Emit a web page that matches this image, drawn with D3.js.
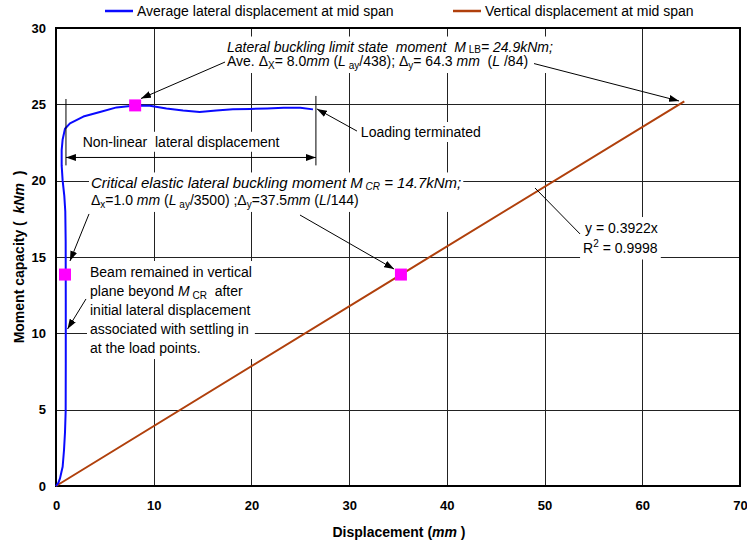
<!DOCTYPE html>
<html>
<head>
<meta charset="utf-8">
<script src="https://cdn.jsdelivr.net/npm/d3@7"></script>
<style>
  body { margin: 0; background: #fff; }
  svg { font-family: "Liberation Sans", Arial, sans-serif; }
  text { white-space: pre; }
</style>
</head>
<body>
<svg width="747" height="540"></svg>
<script>
var width = 747;
var height = 540;
var plotLeft = 56, plotRight = 740, plotTop = 28, plotBottom = 486;

// values
var xTicks = [0, 10, 20, 30, 40, 50, 60, 70];
var yTicks = [0, 5, 10, 15, 20, 25, 30];

var lateral = [
  [0, 0], [0.24, 0.2], [0.41, 0.5], [0.55, 0.9], [0.68, 1.26], [0.82, 2.36],
  [0.92, 3.5], [0.99, 4.9], [1.0, 8], [1.0, 12], [0.99, 16], [0.95, 18],
  [0.85, 19], [0.68, 20], [0.58, 21], [0.58, 22], [0.68, 22.7], [0.92, 23.4],
  [1.43, 23.75], [2.8, 24.2], [4.5, 24.5], [6.2, 24.8], [8.1, 24.93],
  [9.6, 24.9], [11.3, 24.73], [13.0, 24.6], [14.7, 24.5], [16.4, 24.6],
  [18.1, 24.67], [19.9, 24.7], [21.6, 24.73], [23.3, 24.77], [25.0, 24.77],
  [26.3, 24.67]
];
var vertical = [[0, 0], [35.3, 13.85], [64.3, 25.2]];
var keyPoints = [[8.1, 24.93], [0.92, 13.85], [35.3, 13.85]];

var seriesNames = ["Average lateral displacement at mid span", "Vertical displacement at mid span"];
var seriesColors = ["#0a0aff", "#b0400c"];

var xScale = d3.scaleLinear().domain([0, 70]).range([plotLeft, plotRight]);
var yScale = d3.scaleLinear().domain([0, 30]).range([plotBottom, plotTop]);

var svg = d3.select("svg");

var defs = svg.append("defs");
defs.append("marker")
  .attr("id", "arrow")
  .attr("viewBox", "0 0 10 7")
  .attr("refX", 10).attr("refY", 3.5)
  .attr("markerWidth", 10).attr("markerHeight", 7)
  .attr("markerUnits", "userSpaceOnUse")
  .attr("orient", "auto-start-reverse")
  .append("path").attr("d", "M0,0 L10,3.5 L0,7 z").attr("fill", "#000");

// grid + tick labels
var xAxis = svg.append("g")
  .attr("transform", `translate(0, ${plotBottom})`)
  .call(d3.axisBottom(xScale).tickValues(xTicks)
    .tickSize(-(plotBottom - plotTop)).tickSizeOuter(0));
var yAxis = svg.append("g")
  .attr("transform", `translate(${plotLeft}, 0)`)
  .call(d3.axisLeft(yScale).tickValues(yTicks)
    .tickSize(-(plotRight - plotLeft)).tickSizeOuter(0));

[xAxis, yAxis].forEach(function(a){
  a.select(".domain").remove();
  a.selectAll(".tick line").attr("stroke", "#222").attr("stroke-width", 1)
    .attr("shape-rendering", "crispEdges");
  a.selectAll(".tick text").attr("font-size", 13).attr("font-weight", "bold")
    .attr("fill", "#000").attr("font-family", "Liberation Sans, Arial, sans-serif");
});
xAxis.selectAll(".tick text").attr("y", 15);
yAxis.selectAll(".tick text").attr("x", -10);

// frame
svg.append("rect")
  .attr("x", plotLeft).attr("y", plotTop)
  .attr("width", plotRight - plotLeft).attr("height", plotBottom - plotTop)
  .attr("fill", "none").attr("stroke", "#000").attr("stroke-width", 1.2)
  .attr("shape-rendering", "crispEdges");
svg.append("path")
  .attr("d", `M${plotLeft},${plotTop} V${plotBottom} H${plotRight}`)
  .attr("fill", "none").attr("stroke", "#000").attr("stroke-width", 2);

var bgLayer = svg.append("g");
var dataLayer = svg.append("g");
var annLayer = svg.append("g").attr("font-size", 14).attr("fill", "#000");

var line = d3.line()
  .x(function(d){ return xScale(d[0]); })
  .y(function(d){ return yScale(d[1]); });

dataLayer.append("path").datum(vertical)
  .attr("fill", "none").attr("stroke", seriesColors[1]).attr("stroke-width", 2)
  .attr("d", line);
dataLayer.append("path").datum(lateral)
  .attr("fill", "none").attr("stroke", seriesColors[0]).attr("stroke-width", 2)
  .attr("stroke-linejoin", "round")
  .attr("d", line);
dataLayer.selectAll("rect.key").data(keyPoints).enter()
  .append("rect").attr("class", "key")
  .attr("x", d => xScale(d[0]) - 6).attr("y", d => yScale(d[1]) - 6)
  .attr("width", 12).attr("height", 12)
  .attr("fill", "#ff00ff");

// text with sub/superscripts: parts = [text, style]
function richText(g, xd, yd, parts, subShift){
  var t = g.append("text").attr("x", xScale(xd)).attr("y", yScale(yd));
  var shift = 0;
  var sub = subShift || 3;
  parts.forEach(function(p){
    var st = p[1] || "";
    var ts = t.append("tspan").text(p[0]);
    var target = st.indexOf("sub") >= 0 ? sub : (st.indexOf("sup") >= 0 ? -6 : 0);
    ts.attr("dy", target - shift);
    shift = target;
    if (st.indexOf("i") >= 0) ts.style("font-style", "italic");
    if (target !== 0) ts.attr("font-size", 10);
  });
  return t;
}

function whiteBox(g, pad){
  var b = g.node().getBBox();
  bgLayer.append("rect")
    .attr("x", b.x - pad).attr("y", b.y - pad)
    .attr("width", b.width + 2 * pad).attr("height", b.height + 2 * pad)
    .attr("fill", "#fff");
}

function arrow(x1, y1, x2, y2, head){
  annLayer.append("line")
    .attr("x1", xScale(x1)).attr("y1", yScale(y1))
    .attr("x2", xScale(x2)).attr("y2", yScale(y2))
    .attr("stroke", "#000").attr("stroke-width", 1)
    .attr("marker-end", head === false ? null : "url(#arrow)");
}

// Lateral buckling limit state
var g1 = annLayer.append("g");
richText(g1, 17.5, 28.46, [["Lateral buckling limit state  moment  M", "i"], [" LB", "sub"], ["= 24.9kNm;", "i"]], 1);
richText(g1, 17.5, 27.51, [["Ave. \u0394"], ["X", "sub"], ["= 8.0"], ["mm", "i"], [" ("], ["L", "i"], [" ay", "sub"],
  ["/438); \u0394"], ["y", "sub"], ["= 64.3 "], ["mm", "i"], ["  ("], ["L", "i"], [" /84)"]]);
whiteBox(g1, 2);
arrow(17.3, 27.77, 8.7, 25.38);
arrow(48.92, 27.67, 63.76, 25.22);

// Loading terminated
var g2 = annLayer.append("g");
richText(g2, 31.2, 22.86, [["Loading terminated"]]);
whiteBox(g2, 2);
arrow(30.8, 23.25, 26.7, 24.7);

// Non-linear lateral displacement
var g3 = annLayer.append("g");
richText(g3, 12.8, 22.22, [["Non-linear  lateral displacement"]]).attr("text-anchor", "middle");
whiteBox(g3, 2);
arrow(1.02, 25.35, 1.02, 21.0, false);
arrow(26.6, 25.55, 26.6, 21.0, false);
annLayer.append("line")
  .attr("x1", xScale(1.02)).attr("y1", yScale(21.52))
  .attr("x2", xScale(26.6)).attr("y2", yScale(21.52))
  .attr("stroke", "#000").attr("stroke-width", 1)
  .attr("marker-start", "url(#arrow)").attr("marker-end", "url(#arrow)");

// Critical elastic lateral buckling moment
var g4 = annLayer.append("g");
richText(g4, 3.58, 19.49, [["Critical elastic lateral buckling moment M", "i"], [" CR", "subi"], [" = 14.7kNm;", "i"]], 2)
  .attr("font-size", 15);
richText(g4, 3.58, 18.41, [["\u0394"], ["x", "sub"], ["=1.0 "], ["mm", "i"], [" ("], ["L", "i"], [" ay", "sub"],
  ["/3500) ;\u0394"], ["y", "sub"], ["=37.5"], ["mm", "i"], [" ("], ["L", "i"], ["/144)"]]);
whiteBox(g4, 2);
arrow(3.38, 17.82, 1.43, 14.74);
arrow(24.97, 17.75, 34.6, 14.21);

// Beam remained in vertical plane
var g5 = annLayer.append("g");
richText(g5, 3.48, 13.69, [["Beam remained in vertical"]]);
richText(g5, 3.48, 12.45, [["plane beyond "], ["M", "i"], [" CR", "sub"], ["  after"]]);
richText(g5, 3.48, 11.2, [["initial lateral displacement"]]);
richText(g5, 3.48, 9.96, [["associated with settling in"]]);
richText(g5, 3.48, 8.71, [["at the load points."]]);
whiteBox(g5, 3);
arrow(3.07, 12.25, 1.18, 10.28);

// trend line equation
var g6 = annLayer.append("g");
richText(g6, 54.14, 16.57, [["y = 0.3922x"]]);
richText(g6, 53.94, 15.23, [["R"], ["2", "sup"], [" = 0.9998"]]);
whiteBox(g6, 3);
arrow(49.02, 19.52, 53.63, 16.51, false);

// legend
var legend = svg.append("g").attr("font-size", 14);
var legendX = [105, 453];
seriesNames.forEach(function(name, i){
  legend.append("line")
    .attr("x1", legendX[i]).attr("x2", legendX[i] + 28)
    .attr("y1", 11).attr("y2", 11)
    .attr("stroke", seriesColors[i]).attr("stroke-width", 2.5);
  legend.append("text")
    .attr("x", legendX[i] + 32).attr("y", 16)
    .text(name);
});

// axis titles
var xTitle = svg.append("text")
  .attr("x", (plotLeft + plotRight) / 2 + 1).attr("y", 537)
  .attr("text-anchor", "middle")
  .attr("font-size", 14).attr("font-weight", "bold");
xTitle.append("tspan").text("Displacement (");
xTitle.append("tspan").style("font-style", "italic").text("mm");
xTitle.append("tspan").text(" )");

var yTitle = svg.append("text")
  .attr("transform", `translate(24, ${(plotTop + plotBottom) / 2}) rotate(-90)`)
  .attr("text-anchor", "middle")
  .attr("font-size", 14).attr("font-weight", "bold");
yTitle.append("tspan").text("Moment capacity (  ");
yTitle.append("tspan").style("font-style", "italic").text("kNm");
yTitle.append("tspan").text("  )");
</script>
</body>
</html>
